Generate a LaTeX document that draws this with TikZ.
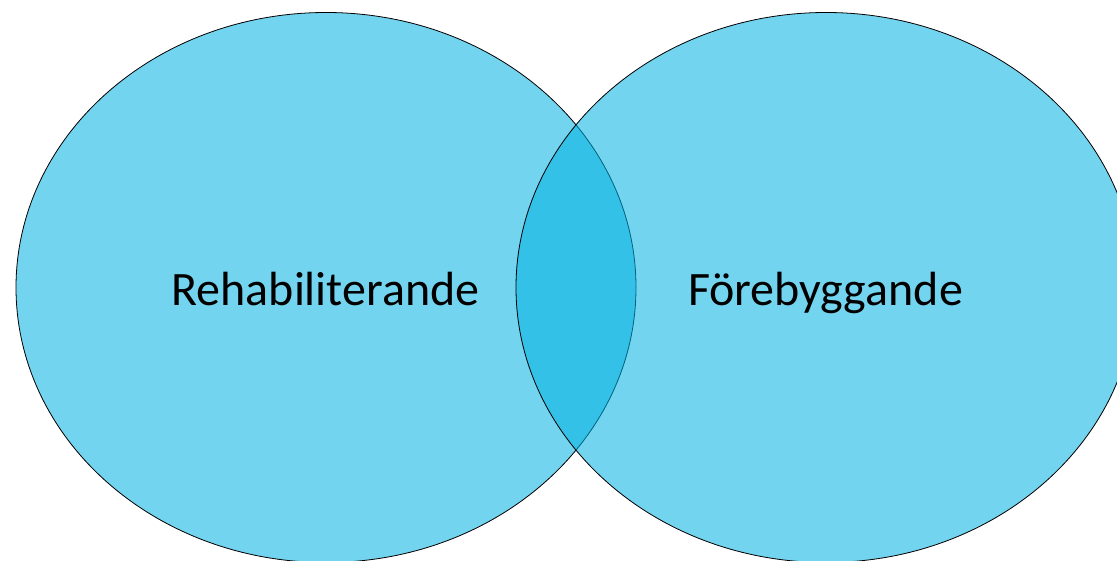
\documentclass[tikz,border=0pt]{standalone}
\usepackage{fontspec}
\setmainfont{Carlito}
\definecolor{vennblue}{RGB}{0,178,226}
\tikzset{
  vennset/.style={draw=black, line width=0.8pt, fill=vennblue, fill opacity=0.55},
  venntext/.style={font=\fontsize{48}{58}\selectfont, anchor=base, text opacity=1, inner sep=0pt}
}
\begin{document}
\begin{tikzpicture}[x=1pt,y=-1pt]
\useasboundingbox (0,0) rectangle (1117,561);
\clip (0,0) rectangle (1117,561);
\fill[white] (0,0) rectangle (1117,561);
\draw[vennset] (326,287.5) ellipse [x radius=310, y radius=275];
\draw[vennset] (826,287.5) ellipse [x radius=310, y radius=275];
\node[venntext] (left) at (325.5,306) {Rehabiliterande};
\node[venntext] (right) at (825.5,306) {Förebyggande};
\end{tikzpicture}
\end{document}
